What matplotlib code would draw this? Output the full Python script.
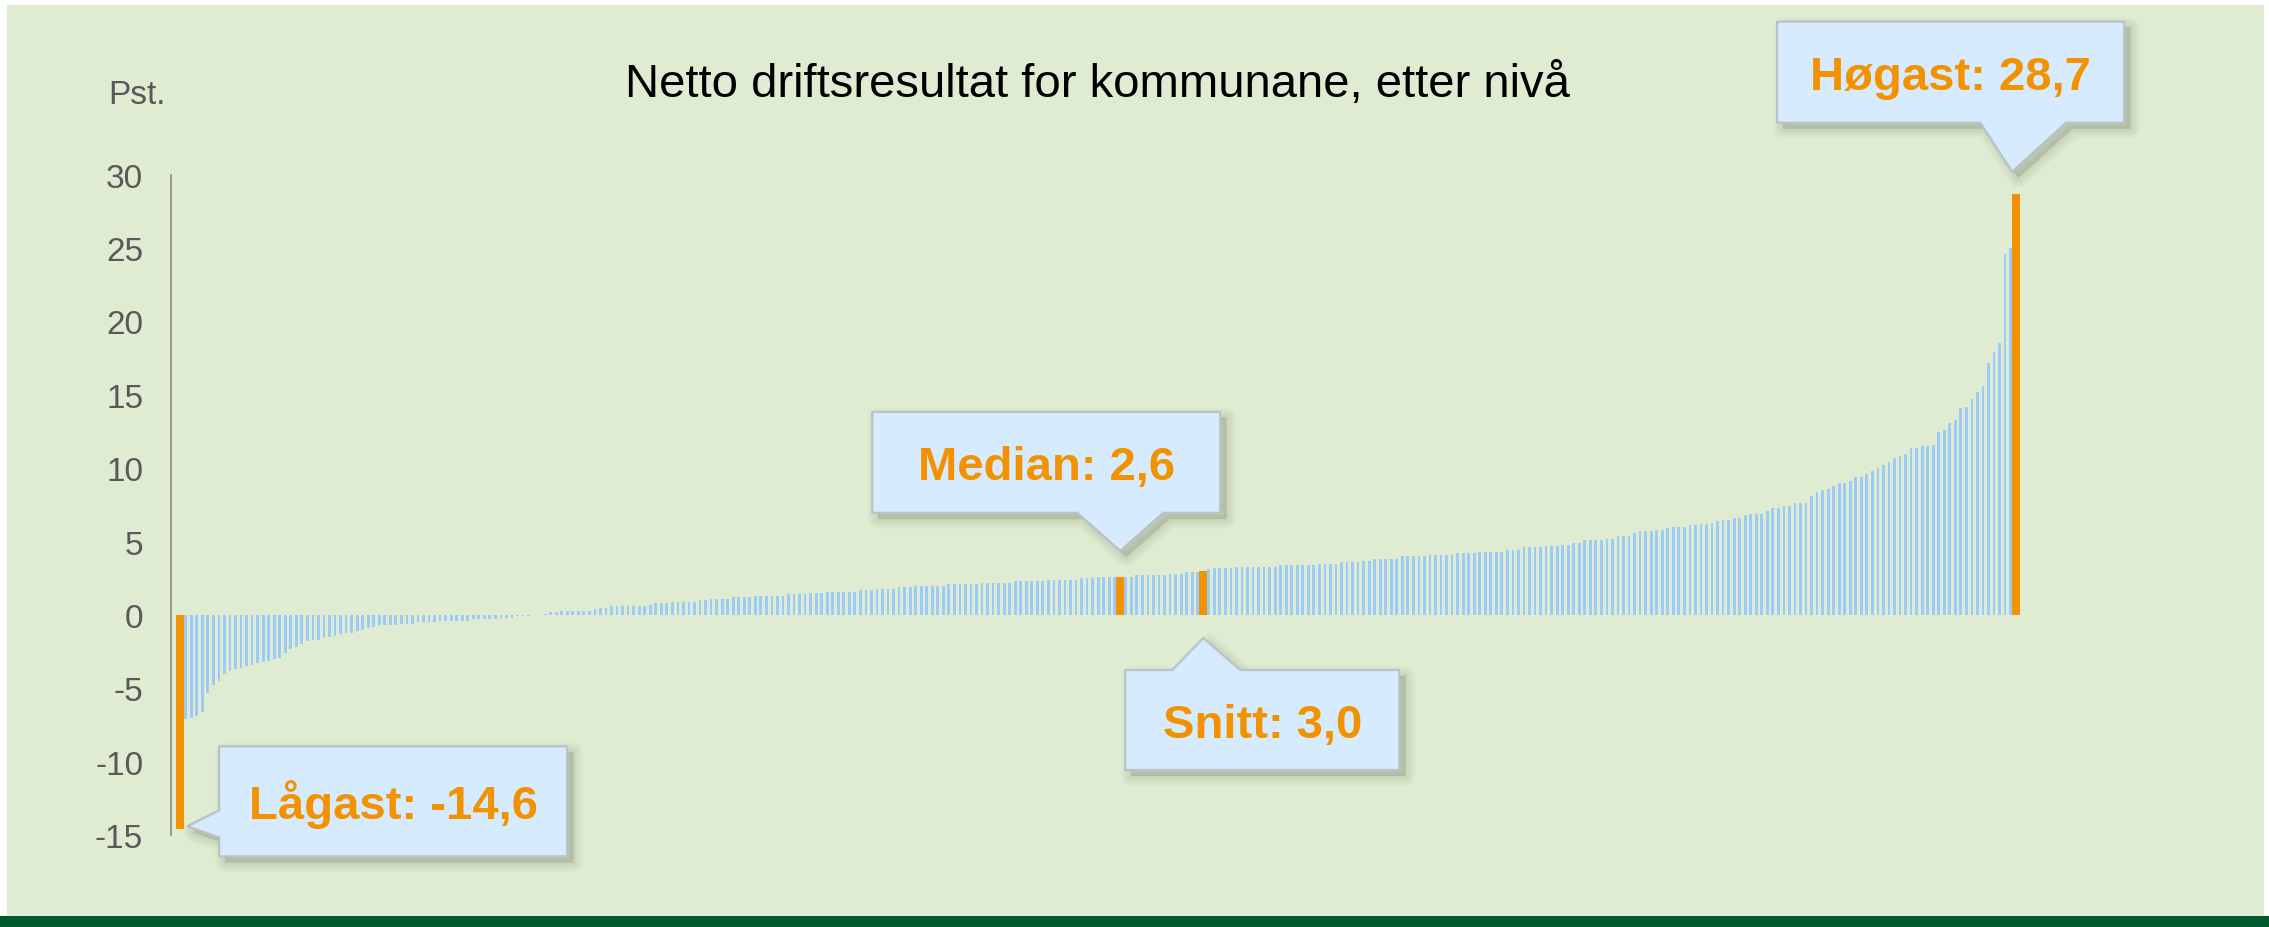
"""
Netto driftsresultat for kommunane, sortert etter nivå.
Lys blå søyler for alle kommunar, oransje for lågast / median / snitt / høgast.
"""

import matplotlib.pyplot as plt
import matplotlib.patches as mpatches
from matplotlib.transforms import IdentityTransform

# ──────────────────────────────────────────────────────────────
#  Data (pst., sortert stigande, lest av figuren)
# ──────────────────────────────────────────────────────────────
resultat = [
    -14.6, -7.1, -7.0, -6.9, -6.6, -5.3, -4.8, -4.5, -4.0, -3.8,
    -3.7, -3.6, -3.5, -3.4, -3.3, -3.2, -3.1, -3.0, -2.9, -2.6,
    -2.3, -2.2, -2.0, -1.8, -1.7, -1.7, -1.6, -1.5, -1.4, -1.3,
    -1.2, -1.2, -1.1, -1.0, -0.9, -0.8, -0.7, -0.7, -0.7, -0.7,
    -0.6, -0.6, -0.6, -0.5, -0.5, -0.5, -0.5, -0.4, -0.4, -0.4,
    -0.4, -0.4, -0.4, -0.3, -0.3, -0.3, -0.3, -0.3, -0.2, -0.2,
    -0.2, -0.1, -0.1, -0.1, 0.0, 0.0, 0.1, 0.2, 0.2, 0.3,
    0.3, 0.3, 0.3, 0.3, 0.3, 0.4, 0.5, 0.5, 0.6, 0.6,
    0.6, 0.6, 0.6, 0.6, 0.6, 0.7, 0.8, 0.8, 0.8, 0.9,
    0.9, 0.9, 0.9, 0.9, 1.0, 1.0, 1.1, 1.1, 1.1, 1.1,
    1.2, 1.2, 1.2, 1.2, 1.3, 1.3, 1.3, 1.3, 1.3, 1.3,
    1.4, 1.4, 1.4, 1.4, 1.5, 1.5, 1.5, 1.6, 1.6, 1.6,
    1.6, 1.6, 1.6, 1.7, 1.7, 1.7, 1.8, 1.8, 1.8, 1.8,
    1.9, 1.9, 1.9, 2.0, 2.0, 2.0, 2.0, 2.0, 2.0, 2.1,
    2.1, 2.1, 2.1, 2.1, 2.1, 2.2, 2.2, 2.2, 2.2, 2.2,
    2.2, 2.3, 2.3, 2.3, 2.3, 2.3, 2.3, 2.4, 2.4, 2.4,
    2.4, 2.4, 2.4, 2.5, 2.5, 2.5, 2.6, 2.6, 2.6, 2.6,
    2.6, 2.6, 2.6, 2.7, 2.7, 2.7, 2.7, 2.7, 2.7, 2.8,
    2.8, 2.8, 2.9, 2.9, 2.9, 3.0, 3.1, 3.2, 3.2, 3.2,
    3.2, 3.3, 3.3, 3.3, 3.3, 3.3, 3.3, 3.3, 3.3, 3.4,
    3.4, 3.4, 3.4, 3.4, 3.4, 3.4, 3.5, 3.5, 3.5, 3.5,
    3.6, 3.6, 3.6, 3.6, 3.7, 3.7, 3.8, 3.8, 3.8, 3.8,
    3.8, 4.0, 4.0, 4.0, 4.0, 4.0, 4.1, 4.1, 4.1, 4.1,
    4.1, 4.2, 4.2, 4.2, 4.2, 4.3, 4.3, 4.3, 4.3, 4.3,
    4.4, 4.4, 4.4, 4.6, 4.6, 4.6, 4.6, 4.7, 4.7, 4.7,
    4.8, 4.8, 4.9, 4.9, 5.1, 5.1, 5.1, 5.1, 5.2, 5.2,
    5.4, 5.4, 5.4, 5.6, 5.7, 5.7, 5.7, 5.8, 5.8, 5.9,
    6.0, 6.0, 6.0, 6.1, 6.1, 6.2, 6.2, 6.3, 6.4, 6.5,
    6.5, 6.6, 6.6, 6.8, 6.9, 6.9, 6.9, 7.1, 7.3, 7.3,
    7.4, 7.4, 7.6, 7.6, 7.6, 8.1, 8.4, 8.5, 8.6, 8.8,
    9.0, 9.0, 9.1, 9.4, 9.4, 9.6, 9.8, 10.0, 10.2, 10.4,
    10.7, 10.8, 11.0, 11.4, 11.4, 11.5, 11.5, 11.6, 12.5, 12.6,
    13.1, 13.3, 14.1, 14.2, 14.7, 15.2, 15.6, 17.2, 17.9, 18.5,
    24.6, 25.0, 28.7,
]

# kommunar som er markerte (posisjon i sortert liste) og teksten i boblene
highlight_index = [0, 170, 185, 332]
highlight_labels = ["Lågast: -14,6", "Median: 2,6", "Snitt: 3,0", "Høgast: 28,7"]

y_ticks = [-15, -10, -5, 0, 5, 10, 15, 20, 25, 30]

TITLE = "Netto driftsresultat for kommunane, etter nivå"
UNIT = "Pst."

# ──────────────────────────────────────────────────────────────
#  Style
# ──────────────────────────────────────────────────────────────
W, H = 2269, 928
BG_GREEN = "#E0ECD1"
DARK_GREEN = "#005A2E"
BAR_BLUE = "#9CCBF8"
ORANGE = "#F39200"
BOX_FILL = "#D6EBFD"
BOX_EDGE = "#B9C1C9"
GREY_TEXT = "#595959"

plt.rcParams["font.family"] = ["Liberation Sans", "DejaVu Sans"]

PX = IdentityTransform()  # figure pixels, y up


def _callout(fig, ax, idx, value, text, tip_off, box, base, side):
    """Draw a speech-bubble callout pointing at bar `idx` (offsets in px)."""
    ax_x, ax_y = ax.transData.transform((idx, value))
    tx, ty = ax_x + tip_off[0], ax_y + tip_off[1]
    x0, x1, y0, y1 = tx + box[0], tx + box[1], ty + box[2], ty + box[3]
    if side == "left":
        b_lo, b_hi = ty + base[0], ty + base[1]
        verts = [(x0, y0), (x0, b_lo), (tx, ty), (x0, b_hi),
                 (x0, y1), (x1, y1), (x1, y0)]
    elif side == "bottom":
        b_lo, b_hi = tx + base[0], tx + base[1]
        verts = [(x0, y0), (x0, y1), (x1, y1), (x1, y0),
                 (b_hi, y0), (tx, ty), (b_lo, y0)]
    else:  # top
        b_lo, b_hi = tx + base[0], tx + base[1]
        verts = [(x0, y0), (x0, y1), (b_lo, y1), (tx, ty),
                 (b_hi, y1), (x1, y1), (x1, y0)]

    # soft drop shadow
    shadow = [(x + 6, y - 6) for x, y in verts]
    for lw in [14, 11, 8, 5, 2, 0.5]:
        fig.add_artist(mpatches.Polygon(
            shadow, closed=True, transform=PX, facecolor="#6E7C66",
            edgecolor="#6E7C66", linewidth=lw, alpha=0.045,
            joinstyle="round", zorder=9))

    fig.add_artist(mpatches.Polygon(
        verts, closed=True, transform=PX, facecolor=BOX_FILL,
        edgecolor=BOX_EDGE, linewidth=1.6, zorder=10))

    # centre the capitals vertically in the box
    cx, cy = (x0 + x1) / 2, (y0 + y1) / 2
    fig.text(cx, cy - 17, text, transform=PX, ha="center", va="baseline",
             fontsize=34, fontweight="bold", color=ORANGE, zorder=11)


def main() -> None:
    fig = plt.figure(figsize=(W / 100, H / 100), dpi=100)
    fig.patch.set_facecolor("white")

    # panel background + dark band at the bottom
    fig.add_artist(mpatches.Rectangle((7, H - 917), 2257, 911, transform=PX,
                                      facecolor=BG_GREEN, edgecolor="none",
                                      zorder=-10))
    fig.add_artist(mpatches.Rectangle((0, 0), W, H - 917, transform=PX,
                                      facecolor=DARK_GREEN, edgecolor="none",
                                      zorder=-10))

    # axes: y from -15 (px 836) to 30 (px 175.6); bar slots 5.53 px wide
    left_px, right_px = 171, 2060
    bottom_px, top_px = 836.2, 175.6
    ax = fig.add_axes([left_px / W, (H - bottom_px) / H,
                       (right_px - left_px) / W, (bottom_px - top_px) / H])
    ax.patch.set_alpha(0)

    n = len(resultat)
    pos = list(range(n))
    blue = [v if i not in highlight_index else 0 for i, v in enumerate(resultat)]
    ax.bar(pos, blue, width=0.5, color=BAR_BLUE, linewidth=0, zorder=2)
    ax.bar(highlight_index, [resultat[i] for i in highlight_index],
           width=1.45, color=ORANGE, linewidth=0, zorder=3)

    ax.set_xlim(-1.66, (right_px - 180.2) / 5.53)
    ax.set_ylim(-15, 30)
    ax.set_yticks(y_ticks)
    ax.set_yticklabels([str(t) for t in y_ticks])
    ax.tick_params(axis="y", length=0, pad=20, labelsize=24, labelcolor=GREY_TEXT)
    ax.set_xticks([])
    for side in ["top", "right", "bottom"]:
        ax.spines[side].set_visible(False)
    ax.spines["left"].set_color("#8A8A8A")
    ax.spines["left"].set_linewidth(1.2)

    fig.text(1097, H - 96.7, TITLE, transform=PX, ha="center", va="baseline",
             fontsize=34, color="black")
    fig.text(108, H - 104, UNIT, transform=PX, ha="left", va="baseline",
             fontsize=24, color=GREY_TEXT)

    # callouts: tip offset from bar end, box (x0, x1, y0, y1) and pointer
    # base relative to the tip, all in pixels
    layout = [
        ((7, 3), (32, 380, -30, 80), (-11, 16), "left"),
        ((0, 26), (-248, 100, 38, 139), (-43, 43), "bottom"),
        ((0, -23), (-78, 196, -132, -32), (-31, 37), "top"),
        ((-4, 22), (-235, 112, 49, 150), (-32, 54), "bottom"),
    ]
    for k, (tip, box, base, side) in enumerate(layout):
        idx = highlight_index[k]
        anchor = 0 if highlight_labels[k].startswith("Snitt") else resultat[idx]
        _callout(fig, ax, idx, anchor, highlight_labels[k], tip, box, base, side)

    fig.savefig("out.png", dpi=100)
    plt.close(fig)


if __name__ == "__main__":
    main()
